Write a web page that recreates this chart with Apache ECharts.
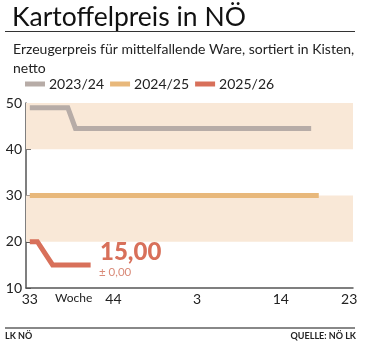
<!DOCTYPE html>
<html>
<head>
<meta charset="utf-8">
<script src="https://cdn.jsdelivr.net/npm/echarts@6/dist/echarts.min.js"></script>
<style>
html,body{margin:0;padding:0;background:#fff;}
#c{width:369px;height:358px;}
</style>
</head>
<body>
<div id="c"></div>
<script>
const weeks = ['33','34','35','36','37','38','39','40','41','42','43','44','45','46','47','48','49','50','51','52',
  '1','2','3','4','5','6','7','8','9','10','11','12','13','14','15','16','17','18','19','20','21','22','23'];
const labelWeeks = ['33','44','3','14','23'];
const yTicks = [10, 20, 30, 40, 50];
const bands = [[40, 50], [20, 30]];
const seriesNames = ['2023/24', '2024/25', '2025/26'];
const s2324 = [49,49,49,49,49,49,44.5,44.5,44.5,44.5,44.5,44.5,44.5,44.5,44.5,44.5,44.5,44.5,44.5,44.5,
  44.5,44.5,44.5,44.5,44.5,44.5,44.5,44.5,44.5,44.5,44.5,44.5,44.5,44.5,44.5,44.5,44.5,44.5,null,null,null,null,null];
const s2425 = [30,30,30,30,30,30,30,30,30,30,30,30,30,30,30,30,30,30,30,30,
  30,30,30,30,30,30,30,30,30,30,30,30,30,30,30,30,30,30,30,null,null,null,null];
const s2526 = [20,20,17.5,15,15,15,15,15,15,null,null,null,null,null,null,null,null,null,null,null,
  null,null,null,null,null,null,null,null,null,null,null,null,null,null,null,null,null,null,null,null,null,null,null];
const currentValue = '15,00';
const change = '± 0,00';

const colors = ['#b7aca7', '#e8b87b', '#d8705a'];
const FONT = 'Lato';

const chart = echarts.init(document.getElementById('c'), null, {renderer: 'canvas'});
const labelSet = new Set();
let seenYearEnd = false;
weeks.forEach((w, i) => {
  if (w === '1') seenYearEnd = true;
  if (labelWeeks.includes(w) && (seenYearEnd ? Number(w) < 33 : Number(w) >= 33)) labelSet.add(i);
});

const lineSeries = [s2324, s2425, s2526].map((d, k) => ({
  name: seriesNames[k],
  type: 'line',
  data: d,
  symbol: 'none',
  z: 3,
  lineStyle: {color: colors[k], width: 5, cap: 'butt', join: 'miter'},
  itemStyle: {color: colors[k]}
}));
lineSeries[0].markArea = {
  silent: true,
  itemStyle: {color: '#f9e8d7'},
  data: bands.map(b => [{yAxis: b[0]}, {yAxis: b[1]}])
};

chart.setOption({
  animation: false,
  backgroundColor: '#fff',
  grid: {left: 26, right: 16, top: 103, bottom: 70},
  legend: {
    data: seriesNames,
    left: 25, top: 77, padding: 0,
    itemWidth: 20, itemHeight: 5, itemGap: 6,
    icon: 'rect',
    textStyle: {fontFamily: FONT, fontSize: 14, color: '#222', padding: [0,0,0,-1]}
  },
  xAxis: {
    type: 'category',
    data: weeks,
    boundaryGap: true,
    axisLine: {lineStyle: {color: '#555', width: 1.5}},
    axisTick: {inside: true, length: 4, interval: 0, lineStyle: {color: '#777'}},
    axisLabel: {
      interval: (i) => labelSet.has(i),
      fontFamily: FONT, fontSize: 14, color: '#222', margin: 4
    }
  },
  yAxis: {
    type: 'value', min: 10, max: 50, interval: 10,
    splitLine: {show: false},
    axisLine: {show: true, lineStyle: {color: '#555', width: 1.5}},
    axisTick: {show: true, inside: true, length: 5, lineStyle: {color: '#555'}},
    axisLabel: {fontFamily: FONT, fontSize: 14, color: '#222', margin: 4,
      formatter: v => yTicks.includes(v) ? String(v) : ''}
  },
  series: lineSeries,
  graphic: [
    {type: 'text', left: 12, top: 4, style: {text: 'Kartoffelpreis in NÖ', font: '26.5px ' + FONT, fill: '#111'}},
    {type: 'rect', shape: {x: 5, y: 31, width: 350, height: 1}, style: {fill: '#333'}},
    {type: 'text', left: 13, top: 40, style: {text: 'Erzeugerpreis für mittelfallende Ware, sortiert in Kisten,\nnetto', font: '14px ' + FONT, fill: '#222', lineHeight: 19}},
    {type: 'text', left: 31, top: 118, style: {text: 'EUR\npro 100 kg', font: '13px ' + FONT, fill: '#222', lineHeight: 15}},
    {type: 'text', left: 100, top: 240, style: {text: currentValue, font: '900 24px ' + FONT, fill: '#d8705a'}},
    {type: 'text', left: 99, top: 266, style: {text: change, font: '11.5px ' + FONT, fill: '#d98a78'}},
    {type: 'text', left: 55, top: 292, style: {text: 'Woche', font: '12px ' + FONT, fill: '#222'}},
    {type: 'rect', shape: {x: 5, y: 327, width: 350, height: 2}, style: {fill: '#888'}},
    {type: 'text', x: 5, y: 336, style: {text: 'LK NÖ', font: 'bold 9px ' + FONT, fill: '#222', verticalAlign: 'middle'}},
    {type: 'text', x: 356, y: 336, style: {text: 'QUELLE: NÖ LK', font: 'bold 9px ' + FONT, fill: '#222', verticalAlign: 'middle', align: 'right'}}
  ]
});
</script>
</body>
</html>
